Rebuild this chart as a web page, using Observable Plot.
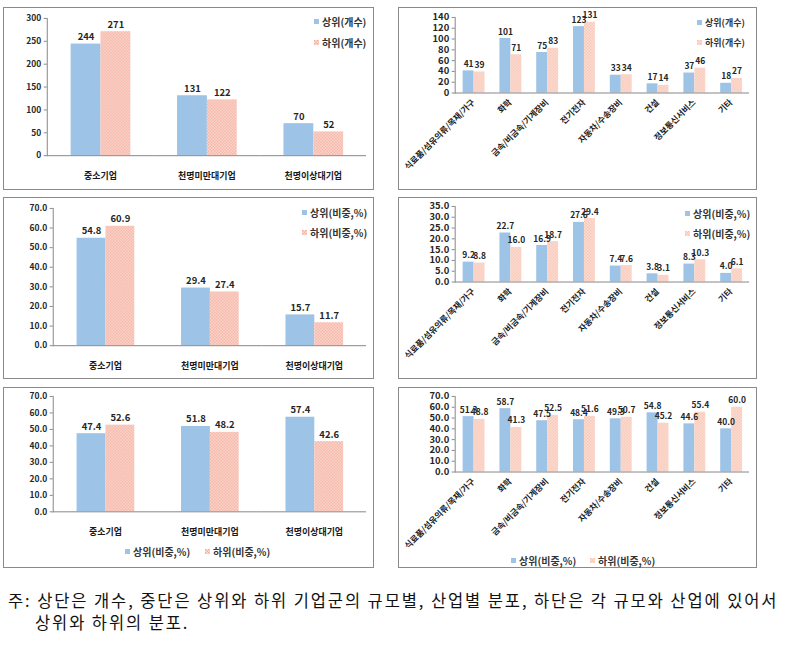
<!DOCTYPE html>
<html><head><meta charset="utf-8">
<script src="https://cdn.jsdelivr.net/npm/d3@7"></script>
<script src="https://cdn.jsdelivr.net/npm/@observablehq/plot@0.6"></script>
<style>
body{margin:0;background:#fff;}
#root{position:relative;width:787px;height:652px;font-family:"Noto Sans CJK KR",sans-serif;overflow:hidden;}
.panel{position:absolute;box-sizing:border-box;border:1.5px solid #8a8a8a;}
.panel svg{position:absolute;left:-1.5px;top:-1.5px;overflow:visible;}
.leg{position:absolute;display:flex;align-items:center;height:14px;font-weight:bold;color:#333;white-space:nowrap;}
.sw{width:5px;height:5px;margin-right:3px;flex:none;}
.cap{position:absolute;left:8px;font-size:16.5px;line-height:22px;letter-spacing:1.9px;color:#111;white-space:nowrap;}
</style></head><body>
<svg width="0" height="0" style="position:absolute">
<defs>
<pattern id="pinkL" width="3" height="3" patternUnits="userSpaceOnUse">
<rect width="3" height="3" fill="#fde4dc"/>
<rect width="1.5" height="1.5" fill="#f3a898"/>
<rect x="1.5" y="1.5" width="1.5" height="1.5" fill="#f3a898"/>
</pattern>
<pattern id="pinkR" width="3" height="3" patternUnits="userSpaceOnUse">
<rect width="3" height="3" fill="#fde6dd"/>
<rect width="1.5" height="1.5" fill="#f7c1b0"/>
<rect x="1.5" y="1.5" width="1.5" height="1.5" fill="#f7c1b0"/>
</pattern>
</defs>
</svg>
<div id="root"></div>
<script>
// ---- data ----
const series = ["상위", "하위"];
const sizeCats = ["중소기업", "천명미만대기업", "천명이상대기업"];
const indCats = ["식료품/섬유의류/목재/가구", "화학", "금속/비금속/기계장비", "전기전자", "자동차/수송장비", "건설", "정보통신서비스", "기타"];

const sizeCountUpper = [244, 131, 70];
const sizeCountLower = [271, 122, 52];
const sizeShareUpper = [54.8, 29.4, 15.7];
const sizeShareLower = [60.9, 27.4, 11.7];
const sizeDistUpper = [47.4, 51.8, 57.4];
const sizeDistLower = [52.6, 48.2, 42.6];

const indCountUpper = [41, 101, 75, 123, 33, 17, 37, 18];
const indCountLower = [39, 71, 83, 131, 34, 14, 46, 27];
const indShareUpper = [9.2, 22.7, 16.9, 27.6, 7.4, 3.8, 8.3, 4.0];
const indShareLower = [8.8, 16.0, 18.7, 29.4, 7.6, 3.1, 10.3, 6.1];
const indDistUpper = [51.3, 58.7, 47.5, 48.4, 49.3, 54.8, 44.6, 40.0];
const indDistLower = [48.8, 41.3, 52.5, 51.6, 50.7, 45.2, 55.4, 60.0];

const legendCount = ["상위(개수)", "하위(개수)"];
const legendShare = ["상위(비중,%)", "하위(비중,%)"];

const captionLines = [
  "주: 상단은 개수, 중단은 상위와 하위 기업군의 규모별, 산업별 분포, 하단은 각 규모와 산업에 있어서",
  "상위와 하위의 분포."
];

// ---- drawing ----
const BLUE = "#9dc3e6";
const AXIS = "#868686";
const TXT = "#262626";
const root = document.getElementById("root");

function panel(box, cfg) {
  const div = document.createElement("div");
  div.className = "panel";
  Object.assign(div.style, {left: box.x + "px", top: box.y + "px", width: box.w + "px", height: box.h + "px"});
  const data = cfg.cats.flatMap((c, i) => [
    {cat: c, s: series[0], v: cfg.upper[i]},
    {cat: c, s: series[1], v: cfg.lower[i]}
  ]);
  const band = (box.w - cfg.ml - cfg.mr) / cfg.cats.length;
  const po = (band / cfg.barW - 2) / 2;
  const fmt = cfg.fmt;
  const svg = Plot.plot({
    width: box.w, height: box.h,
    marginTop: cfg.mt, marginBottom: cfg.mb, marginLeft: cfg.ml, marginRight: cfg.mr,
    style: {fontFamily: '"Noto Sans CJK KR", sans-serif', fontWeight: "bold", background: "transparent", color: TXT, overflow: "visible"},
    fx: {domain: cfg.cats, padding: 0, label: null, axis: null},
    x: {domain: series, paddingInner: 0, paddingOuter: po, axis: null},
    y: {domain: [0, cfg.yMax], axis: null},
    color: {domain: series, range: [BLUE, cfg.pink]},
    marks: [
      Plot.barY(data, {fx: "cat", x: "s", y: "v", fill: "s"}),
      Plot.frame({anchor: "left", facetAnchor: "left", stroke: AXIS}),
      Plot.ruleY([0], {stroke: AXIS}),
      Plot.text(data, {fx: "cat", x: "s", y: "v", text: d => fmt(d.v), lineAnchor: "bottom", dy: -4,
        fill: TXT, fontWeight: "bold", fontSize: cfg.valSize}),
      Plot.axisY({ticks: d3.range(0, cfg.yMax + cfg.yStep / 2, cfg.yStep), tickFormat: fmt, tickSize: 3, tickPadding: 3,
        stroke: AXIS, fill: TXT, fontSize: cfg.tickSize, label: null}),
      Plot.axisFx({anchor: "bottom", tickSize: 0, tickPadding: cfg.catPad, tickRotate: cfg.rotate || 0,
        fill: "#1a1a1a", fontSize: cfg.catSize, label: null})
    ]
  });
  div.appendChild(svg);
  root.appendChild(div);
}

function legendItem(x, cy, label, color, size) {
  const d = document.createElement("div");
  d.className = "leg";
  d.style.left = x + "px";
  d.style.top = (cy - 7) + "px";
  d.style.fontSize = size + "px";
  const sw = document.createElementNS("http://www.w3.org/2000/svg", "svg");
  sw.setAttribute("class", "sw");
  sw.setAttribute("width", 5); sw.setAttribute("height", 5);
  const r = document.createElementNS("http://www.w3.org/2000/svg", "rect");
  r.setAttribute("width", 5); r.setAttribute("height", 5); r.setAttribute("fill", color);
  sw.appendChild(r);
  d.appendChild(sw);
  const t = document.createElement("span");
  t.textContent = label;
  d.appendChild(t);
  root.appendChild(d);
}

const intFmt = d => String(d);
const decFmt = d => d.toFixed(1);

const leftCommon = {cats: sizeCats, barW: 30, mr: 6, valSize: 9.5, tickSize: 8.5, catSize: 9, catPad: 17, pink: "url(#pinkL)"};
const rightCommon = {cats: indCats, barW: 12, mr: 5, ml: 56, valSize: 8.5, tickSize: 9.5, catSize: 8.5, catPad: 8, rotate: -45, pink: "url(#pinkR)"};

panel({x: 3, y: 7, w: 371, h: 183}, {...leftCommon, upper: sizeCountUpper, lower: sizeCountLower, yMax: 300, yStep: 50, fmt: intFmt, ml: 44, mt: 11, mb: 34});
panel({x: 3, y: 197, w: 371, h: 182}, {...leftCommon, upper: sizeShareUpper, lower: sizeShareLower, yMax: 70, yStep: 10, fmt: decFmt, ml: 49, mt: 11, mb: 33});
panel({x: 3, y: 387, w: 371, h: 181}, {...leftCommon, upper: sizeDistUpper, lower: sizeDistLower, yMax: 70, yStep: 10, fmt: decFmt, ml: 49, mt: 9, mb: 56});

panel({x: 398, y: 7, w: 359, h: 183}, {...rightCommon, upper: indCountUpper, lower: indCountLower, yMax: 140, yStep: 20, fmt: intFmt, mt: 10, mb: 97});
panel({x: 398, y: 197, w: 359, h: 182}, {...rightCommon, upper: indShareUpper, lower: indShareLower, yMax: 35, yStep: 5, fmt: decFmt, mt: 9, mb: 97});
panel({x: 398, y: 387, w: 359, h: 181}, {...rightCommon, upper: indDistUpper, lower: indDistLower, yMax: 70, yStep: 10, fmt: decFmt, mt: 9, mb: 96});

// legends
legendItem(314, 21, legendCount[0], BLUE, 10);
legendItem(314, 42, legendCount[1], "url(#pinkL)", 10);
legendItem(697, 22, legendCount[0], BLUE, 9);
legendItem(697, 42, legendCount[1], "url(#pinkR)", 9);
legendItem(302, 212, legendShare[0], BLUE, 10);
legendItem(302, 232, legendShare[1], "url(#pinkL)", 10);
legendItem(685, 213, legendShare[0], BLUE, 10);
legendItem(685, 233, legendShare[1], "url(#pinkR)", 10);
legendItem(125, 551, legendShare[0], BLUE, 10);
legendItem(205, 551, legendShare[1], "url(#pinkL)", 10);
legendItem(511, 560, legendShare[0], BLUE, 10);
legendItem(590, 560, legendShare[1], "url(#pinkR)", 10);

// caption
captionLines.forEach((line, i) => {
  const c = document.createElement("div");
  c.className = "cap";
  c.style.top = (589 + i * 22) + "px";
  if (i > 0) c.style.left = "35px";
  c.textContent = line;
  root.appendChild(c);
});
</script>
</body></html>
